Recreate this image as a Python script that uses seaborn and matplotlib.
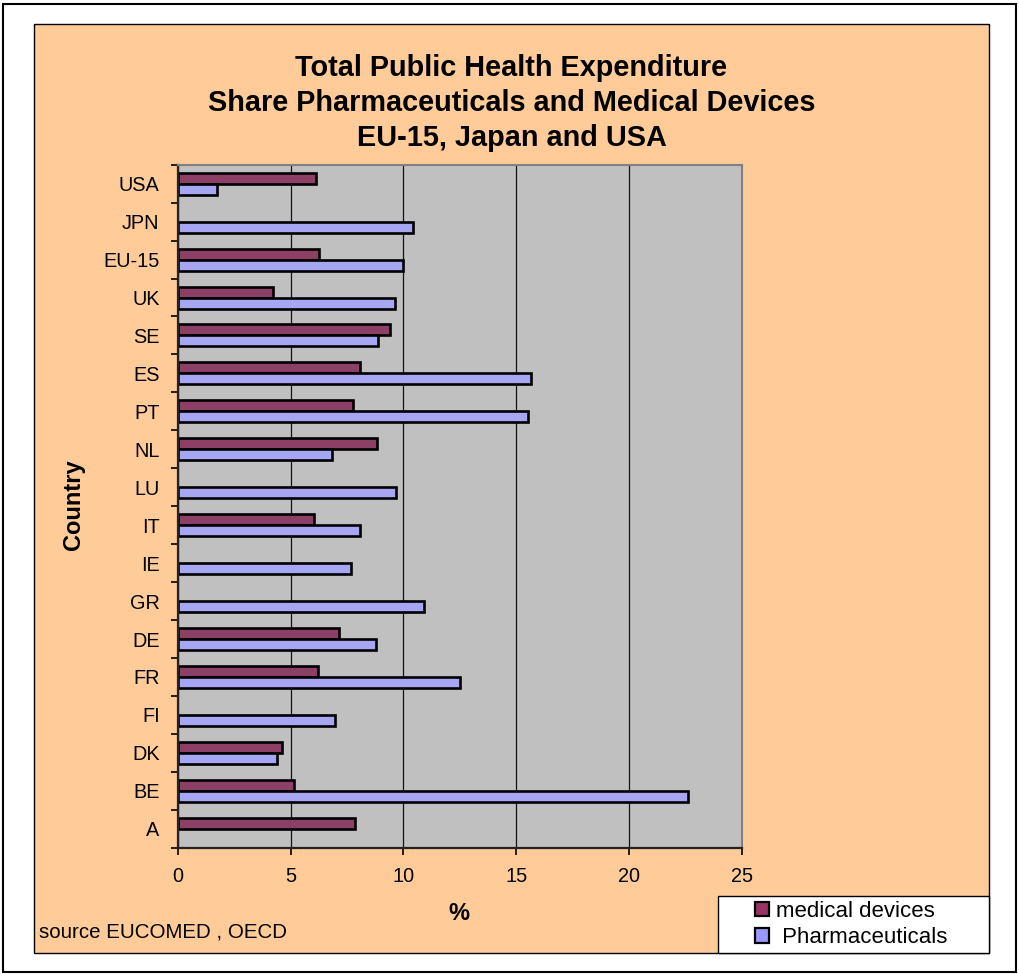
import numpy as np
import pandas as pd
import matplotlib
matplotlib.use("Agg")
import matplotlib.pyplot as plt
import seaborn as sns
from matplotlib.patches import Rectangle, Patch

nan = np.nan
countries = ["USA", "JPN", "EU-15", "UK", "SE", "ES", "PT", "NL", "LU", "IT",
             "IE", "GR", "DE", "FR", "FI", "DK", "BE", "A"]
medical_devices = [6.13, nan, 6.28, 4.24, 9.43, 8.10, 7.77, 8.82, nan, 6.03,
                   nan, nan, 7.17, 6.22, nan, 4.62, 5.16, 7.85]
pharmaceuticals = [1.73, 10.42, 9.97, 9.62, 8.86, 15.66, 15.53, 6.83, 9.67, 8.07,
                   7.68, 10.90, 8.77, 12.52, 6.98, 4.39, 22.63, nan]
series_names = ["medical devices", "Pharmaceuticals"]
x_ticks = [0, 5, 10, 15, 20, 25]
title_lines = ["Total Public Health Expenditure",
               "Share Pharmaceuticals and Medical Devices",
               "EU-15, Japan and USA"]

sns.set_theme(style="ticks")
plt.rcParams["font.family"] = ["Liberation Sans", "DejaVu Sans"]
for key in ["text.color", "axes.labelcolor", "xtick.color", "ytick.color", "axes.edgecolor"]:
    plt.rcParams[key] = "black"

W, H = 1019, 974
fig = plt.figure(figsize=(W / 100, H / 100), dpi=100)
fig.patch.set_facecolor("white")


def fx(px):
    return px / W


def fy(py):
    return 1 - py / H


# outer frame and peach chart area
fig.patches.append(Rectangle((fx(3), fy(972)), fx(1016) - fx(3), fy(4) - fy(972),
                             transform=fig.transFigure, fill=False,
                             edgecolor="black", linewidth=1.5, zorder=-2))
fig.patches.append(Rectangle((fx(34), fy(953)), fx(989) - fx(34), fy(24) - fy(953),
                             transform=fig.transFigure, facecolor="#FFCC99",
                             edgecolor="black", linewidth=1, zorder=-1))

ax = fig.add_axes([fx(177.7), fy(847.7), fx(741.7) - fx(177.7), fy(164.7) - fy(847.7)])
ax.set_facecolor("#C0C0C0")

df = pd.DataFrame({
    "Country": countries * 2,
    "Series": [series_names[0]] * len(countries) + [series_names[1]] * len(countries),
    "Value": medical_devices + pharmaceuticals,
})
colors = ["#993366", "#9999FF"]
sns.barplot(data=df, y="Country", x="Value", hue="Series", order=countries,
            hue_order=series_names, palette=colors, orient="h", width=0.58,
            edgecolor="black", linewidth=1.9, errorbar=None, legend=False, ax=ax)

ax.set_xlim(0, 25)
ax.set_ylim(len(countries) - 0.5, -0.5)
ax.set_xticks(x_ticks)
ax.set_xticklabels([str(t) for t in x_ticks], fontsize=14.3)
ax.set_yticks(np.arange(-0.5, len(countries), 1))
ax.set_yticklabels([])
ax.set_yticks(np.arange(len(countries)), minor=True)
ax.set_yticklabels(countries, minor=True, fontsize=14.3)
ax.tick_params(axis="y", which="major", length=5, width=1.2, color="black", direction="out")
ax.tick_params(axis="y", which="minor", length=0, pad=13)
ax.tick_params(axis="x", which="major", length=5, width=1.2, color="black", direction="out", pad=9)
ax.set_xlabel("")
ax.set_ylabel("")
ax.grid(axis="x", color="#111111", linewidth=0.9)
ax.grid(axis="y", visible=False)
ax.set_axisbelow(True)
for side in ["left", "bottom"]:
    ax.spines[side].set_color("#222222")
    ax.spines[side].set_linewidth(1.6)
for side in ["top", "right"]:
    ax.spines[side].set_visible(True)
    ax.spines[side].set_color("#808080")
    ax.spines[side].set_linewidth(1.5)

# title and axis labels
fig.text(fx(511.5), fy(103), "\n".join(title_lines), ha="center", va="center",
         fontsize=20.8, fontweight="bold", linespacing=1.33)
fig.text(fx(74), fy(505), "Country", rotation=90, ha="center", va="center",
         fontsize=17, fontweight="bold")
fig.text(fx(459), fy(914), "%", ha="center", va="center", fontsize=17, fontweight="bold")
fig.text(fx(39), fy(938), "source EUCOMED , OECD", ha="left", va="baseline", fontsize=14.8)

# legend box
fig.patches.append(Rectangle((fx(718), fy(953)), fx(989) - fx(718), fy(896) - fy(953),
                             transform=fig.transFigure, facecolor="white",
                             edgecolor="black", linewidth=1, zorder=4))
handles = [Patch(facecolor=c, edgecolor="black", linewidth=1.6) for c in colors]
fig.legend(handles, ["medical devices", " Pharmaceuticals"], loc="center left",
           bbox_to_anchor=(fx(755), fy(924.5)), frameon=False, fontsize=16,
           handlelength=0.65, handleheight=0.65, handletextpad=0.3, labelspacing=0.25,
           borderpad=0, borderaxespad=0)

fig.savefig("out.png", dpi=100, facecolor="white")
